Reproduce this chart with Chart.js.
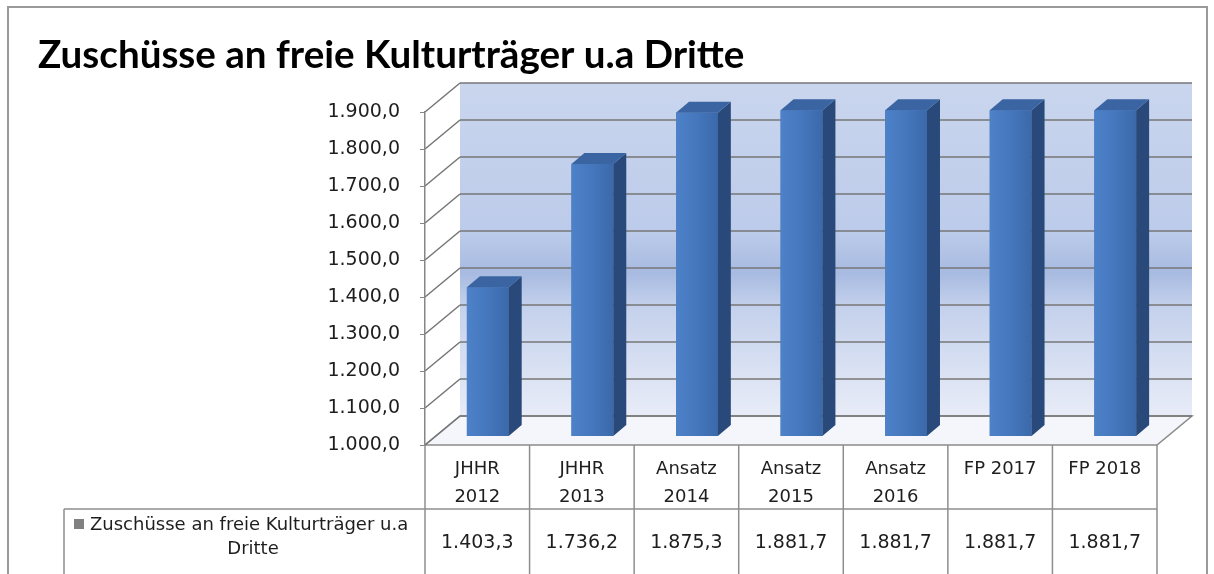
<!DOCTYPE html>
<html>
<head>
<meta charset="utf-8">
<script src="https://cdn.jsdelivr.net/npm/chart.js@4.4.0/dist/chart.umd.min.js"></script>
<style>
  body { margin: 0; background: #fff; }
  #grafico { display: block; }
</style>
</head>
<body>
<canvas id="grafico" width="1214" height="574"></canvas>
<script>
// Daten
var titel = "Zuschüsse an freie Kulturträger u.a Dritte";
var kategorien = [["JHHR", "2012"], ["JHHR", "2013"], ["Ansatz", "2014"], ["Ansatz", "2015"], ["Ansatz", "2016"], ["FP 2017"], ["FP 2018"]];
var werte = [1403.3, 1736.2, 1875.3, 1881.7, 1881.7, 1881.7, 1881.7];
var reiheName = ["Zuschüsse an freie Kulturträger u.a", "Dritte"];
var yMin = 1000, yMax = 1900, yStep = 100;

// 3D-Versatz: Rückwand und Balken
var tiefeX = 35, tiefeY = -29;
var balkenVorneX = 10.5, balkenVorneY = -8.5;
var balkenTiefeX = 13, balkenTiefeY = -11;

function fmt(v) {
  var teile = v.toFixed(1).split(".");
  var ganz = teile[0].replace(/\B(?=(\d{3})+(?!\d))/g, ".");
  return ganz + "," + teile[1];
}

function linie(ctx, x1, y1, x2, y2) {
  ctx.beginPath();
  ctx.moveTo(x1, y1);
  ctx.lineTo(x2, y2);
  ctx.stroke();
}

var dreiD = {
  id: "dreiD",
  beforeDraw: function (chart) {
    var ctx = chart.ctx, ca = chart.chartArea, y = chart.scales.y;
    ctx.save();
    ctx.fillStyle = "#fff";
    ctx.fillRect(0, 0, chart.width, chart.height);

    // Rückwand
    var top = y.getPixelForValue(yMax) + tiefeY;
    var bot = y.getPixelForValue(yMin) + tiefeY;
    var g = ctx.createLinearGradient(0, top, 0, bot);
    g.addColorStop(0, "#cad6ee");
    g.addColorStop(0.45, "#bccbea");
    g.addColorStop(0.57, "#a7bae0");
    g.addColorStop(0.67, "#c4d1ec");
    g.addColorStop(1, "#e8ecf7");
    ctx.fillStyle = g;
    ctx.fillRect(ca.left + tiefeX, top, ca.right - ca.left, bot - top);

    // Boden
    ctx.beginPath();
    ctx.moveTo(ca.left, ca.bottom);
    ctx.lineTo(ca.right, ca.bottom);
    ctx.lineTo(ca.right + tiefeX, ca.bottom + tiefeY);
    ctx.lineTo(ca.left + tiefeX, ca.bottom + tiefeY);
    ctx.closePath();
    ctx.fillStyle = "#f4f6fb";
    ctx.fill();
    ctx.strokeStyle = "#8a8a8a";
    ctx.lineWidth = 1.5;
    ctx.stroke();

    // Gitterlinien an Seiten- und Rückwand
    ctx.strokeStyle = "#767676";
    ctx.lineWidth = 1.5;
    y.ticks.forEach(function (t) {
      var py = y.getPixelForValue(t.value);
      linie(ctx, ca.left, py, ca.left + tiefeX, py + tiefeY);
      linie(ctx, ca.left + tiefeX, py + tiefeY, ca.right + tiefeX, py + tiefeY);
    });
    ctx.restore();
  },
  beforeDatasetsDraw: function (chart) {
    chart.ctx.save();
    chart.ctx.translate(balkenVorneX, balkenVorneY);
  },
  afterDatasetsDraw: function (chart) {
    var ctx = chart.ctx;
    var boden = chart.scales.y.getPixelForValue(yMin);
    chart.getDatasetMeta(0).data.forEach(function (bar) {
      var p = bar.getProps(["x", "y", "base", "width"], true);
      var l = p.x - p.width / 2, r = p.x + p.width / 2;
      var b = Math.min(p.base, boden);
      // Vorderseite
      var gv = ctx.createLinearGradient(l, 0, r, 0);
      gv.addColorStop(0, "#4d81c8");
      gv.addColorStop(0.5, "#4577bd");
      gv.addColorStop(1, "#3b69aa");
      ctx.fillStyle = gv;
      ctx.fillRect(l, p.y, p.width, b - p.y);
      // Seite
      ctx.beginPath();
      ctx.moveTo(r, p.y);
      ctx.lineTo(r + balkenTiefeX, p.y + balkenTiefeY);
      ctx.lineTo(r + balkenTiefeX, b + balkenTiefeY);
      ctx.lineTo(r, b);
      ctx.closePath();
      ctx.fillStyle = "#29497a";
      ctx.fill();
      // Deckel
      ctx.beginPath();
      ctx.moveTo(l, p.y);
      ctx.lineTo(l + balkenTiefeX, p.y + balkenTiefeY);
      ctx.lineTo(r + balkenTiefeX, p.y + balkenTiefeY);
      ctx.lineTo(r, p.y);
      ctx.closePath();
      ctx.fillStyle = "#3a65a2";
      ctx.fill();
    });
    ctx.restore();
  },
  afterDraw: function (chart) {
    var ctx = chart.ctx, ca = chart.chartArea, x = chart.scales.x;
    var breite = (ca.right - ca.left) / werte.length;
    ctx.save();

    // Titel
    ctx.fillStyle = "#000";
    ctx.font = "bold 100px Lato";
    var gr = 100 * 707 / ctx.measureText(titel).width;
    ctx.font = "bold " + gr.toFixed(1) + "px Lato";
    ctx.textAlign = "left";
    ctx.textBaseline = "alphabetic";
    ctx.fillText(titel, 38, 68);

    // Datentabelle
    var zeile2 = ca.bottom + 64;
    ctx.strokeStyle = "#8e8e8e";
    ctx.lineWidth = 1.5;
    linie(ctx, 64, zeile2, ca.right, zeile2);
    linie(ctx, 64, zeile2, 64, chart.height);
    for (var i = 0; i <= werte.length; i++) {
      var px = ca.left + i * breite;
      linie(ctx, px, ca.bottom, px, chart.height);
    }

    ctx.fillStyle = "#1e1e1e";
    ctx.textAlign = "center";
    ctx.textBaseline = "middle";
    kategorien.forEach(function (k, i) {
      var cx = x.getPixelForValue(i);
      ctx.font = "18px 'DejaVu Sans'";
      k.forEach(function (t, j) {
        ctx.fillText(t, cx, ca.bottom + 24 + j * 28);
      });
      ctx.font = "19px 'DejaVu Sans'";
      ctx.fillText(fmt(werte[i]), cx, zeile2 + 34);
    });

    // Legendenschlüssel
    ctx.font = "18px 'DejaVu Sans'";
    ctx.fillStyle = "#808080";
    ctx.fillRect(74, zeile2 + 10, 10, 10);
    ctx.fillStyle = "#1e1e1e";
    ctx.textAlign = "left";
    ctx.fillText(reiheName[0], 90, zeile2 + 16);
    ctx.textAlign = "center";
    ctx.fillText(reiheName[1], 253, zeile2 + 40);

    // Rahmen
    ctx.strokeStyle = "#9a9a9a";
    ctx.lineWidth = 2;
    ctx.strokeRect(8, 7, 1199, 600);
    ctx.restore();
  }
};

new Chart(document.getElementById("grafico"), {
  type: "bar",
  data: {
    labels: kategorien,
    datasets: [{
      label: reiheName.join(" "),
      data: werte,
      base: yMin,
      backgroundColor: "#4577bd",
      borderWidth: 0,
      barPercentage: 0.4,
      categoryPercentage: 1
    }]
  },
  options: {
    responsive: false,
    devicePixelRatio: 1,
    animation: false,
    layout: { padding: { top: 112, bottom: 129, left: 0, right: 57 } },
    plugins: {
      legend: { display: false },
      title: { display: false },
      tooltip: { enabled: false }
    },
    scales: {
      x: { display: false },
      y: {
        min: yMin,
        max: yMax,
        afterFit: function (s) { s.width = 425; },
        ticks: {
          stepSize: yStep,
          padding: 20,
          color: "#1e1e1e",
          font: { family: "DejaVu Sans", size: 19 },
          callback: function (v) { return fmt(v); }
        },
        grid: { drawOnChartArea: false, drawTicks: true, tickLength: 5, color: "#868686" },
        border: { display: true, color: "#868686", width: 1.5 }
      }
    }
  },
  plugins: [dreiD]
});
</script>
</body>
</html>
